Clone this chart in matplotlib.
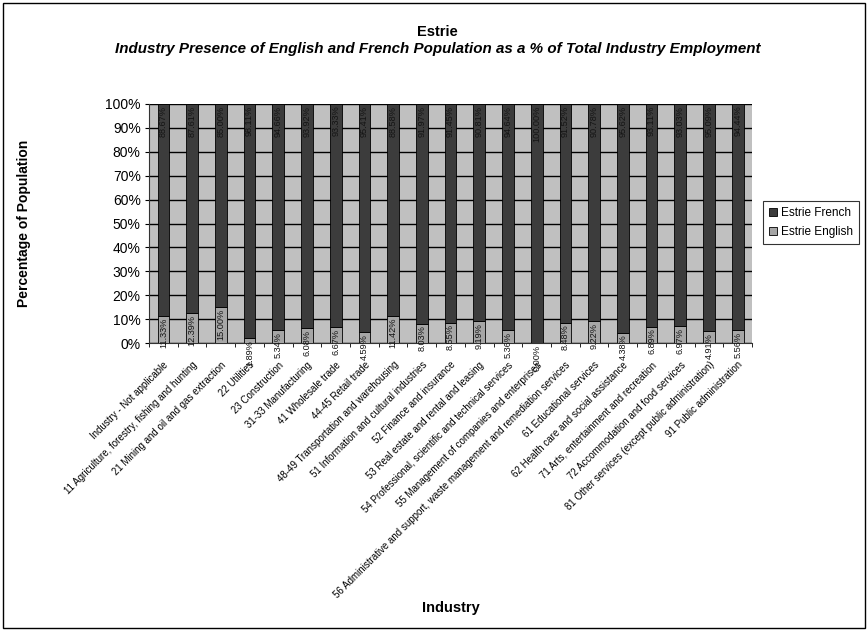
import numpy as np
import matplotlib
matplotlib.use('Agg')
import matplotlib.pyplot as plt
from matplotlib.patches import Rectangle

plt.rcParams['font.family'] = ['Liberation Sans', 'DejaVu Sans']

industries = [
    "Industry - Not applicable",
    "11 Agriculture, forestry, fishing and hunting",
    "21 Mining and oil and gas extraction",
    "22 Utilities",
    "23 Construction",
    "31-33 Manufacturing",
    "41 Wholesale trade",
    "44-45 Retail trade",
    "48-49 Transportation and warehousing",
    "51 Information and cultural industries",
    "52 Finance and insurance",
    "53 Real estate and rental and leasing",
    "54 Professional, scientific and technical services",
    "55 Management of companies and enterprises",
    "56 Administrative and support, waste management and remediation services",
    "61 Educational services",
    "62 Health care and social assistance",
    "71 Arts, entertainment and recreation",
    "72 Accommodation and food services",
    "81 Other services (except public administration)",
    "91 Public administration",
]
english = [11.33, 12.39, 15.00, 1.89, 5.34, 6.08, 6.67, 4.59, 11.42, 8.03, 8.55,
           9.19, 5.36, 0.00, 8.48, 9.22, 4.38, 6.89, 6.97, 4.91, 5.56]
french = [88.67, 87.61, 85.00, 98.11, 94.66, 93.92, 93.33, 95.41, 88.58, 91.97, 91.45,
          90.81, 94.64, 100.00, 91.52, 90.78, 95.62, 93.11, 93.03, 95.09, 94.44]

fig = plt.figure(figsize=(8.68, 6.31), dpi=100)
ax = fig.add_axes([0.1717, 0.4564, 0.6947, 0.3788])
ax.set_facecolor('#c0c0c0')

x = np.arange(len(industries))
w = 0.41
eng = ax.bar(x, english, w, color='#a6a6a6', edgecolor='black', linewidth=0.6,
             label='Estrie English', zorder=3)
fr = ax.bar(x, french, w, bottom=english, color='#3c3c3c', edgecolor='black',
            linewidth=0.6, label='Estrie French', zorder=3)

# labels sit at the inside end of each segment
for i in range(len(industries)):
    ax.text(x[i], 99.3, '%.2f%%' % french[i], rotation=90, ha='center', va='top',
            fontsize=6.6, color='#141414', zorder=4)
    ax.text(x[i], english[i] - 0.7, '%.2f%%' % english[i], rotation=90, ha='center',
            va='top', fontsize=6.6, color='#141414', zorder=4, clip_on=False)

ax.set_ylim(0, 100)
ax.set_xlim(-0.5, len(industries) - 0.5)
ax.set_yticks(np.arange(0, 101, 10))
ax.set_yticklabels(['%d%%' % v for v in range(0, 101, 10)], fontsize=10)
ax.yaxis.grid(True, color='black', linewidth=1.0, zorder=1)
ax.set_axisbelow(True)
ax.set_xticks(x)
ax.set_xticklabels(industries, rotation=45, ha='right', rotation_mode='anchor', fontsize=7.0)
ax.set_xticks(np.arange(-0.5, len(industries), 1), minor=True)
ax.tick_params(axis='x', which='major', length=0, pad=12)
ax.tick_params(axis='x', which='minor', length=3)
ax.tick_params(axis='y', length=3, pad=3)
for s in ['top', 'right']:
    ax.spines[s].set_visible(False)
ax.spines['left'].set_color('#333333')
ax.spines['bottom'].set_color('#333333')

ax.set_ylabel('Percentage of Population', fontsize=10, fontweight='bold')
ax.yaxis.set_label_coords(-0.195, 0.5)
fig.text(0.52, 0.036, 'Industry', ha='center', va='center', fontsize=10.5, fontweight='bold')

fig.text(0.504, 0.949, 'Estrie', ha='center', va='center', fontsize=10.5, fontweight='bold')
fig.text(0.504, 0.922, 'Industry Presence of English and French Population as a % of Total Industry Employment',
         ha='center', va='center', fontsize=10.9, fontweight='bold', style='italic')

leg = fig.legend(handles=[fr, eng], loc='center left', bbox_to_anchor=(0.879, 0.647),
                 fontsize=8.5, frameon=True, fancybox=False, edgecolor='black',
                 handlelength=0.7, handleheight=0.7, handletextpad=0.3,
                 borderpad=0.5, labelspacing=0.6, borderaxespad=0)
leg.get_frame().set_linewidth(0.8)

fig.patches.append(Rectangle((0.004, 0.005), 0.992, 0.99, transform=fig.transFigure,
                             fill=False, edgecolor='black', linewidth=1.0))

fig.savefig('out.png', dpi=100)
